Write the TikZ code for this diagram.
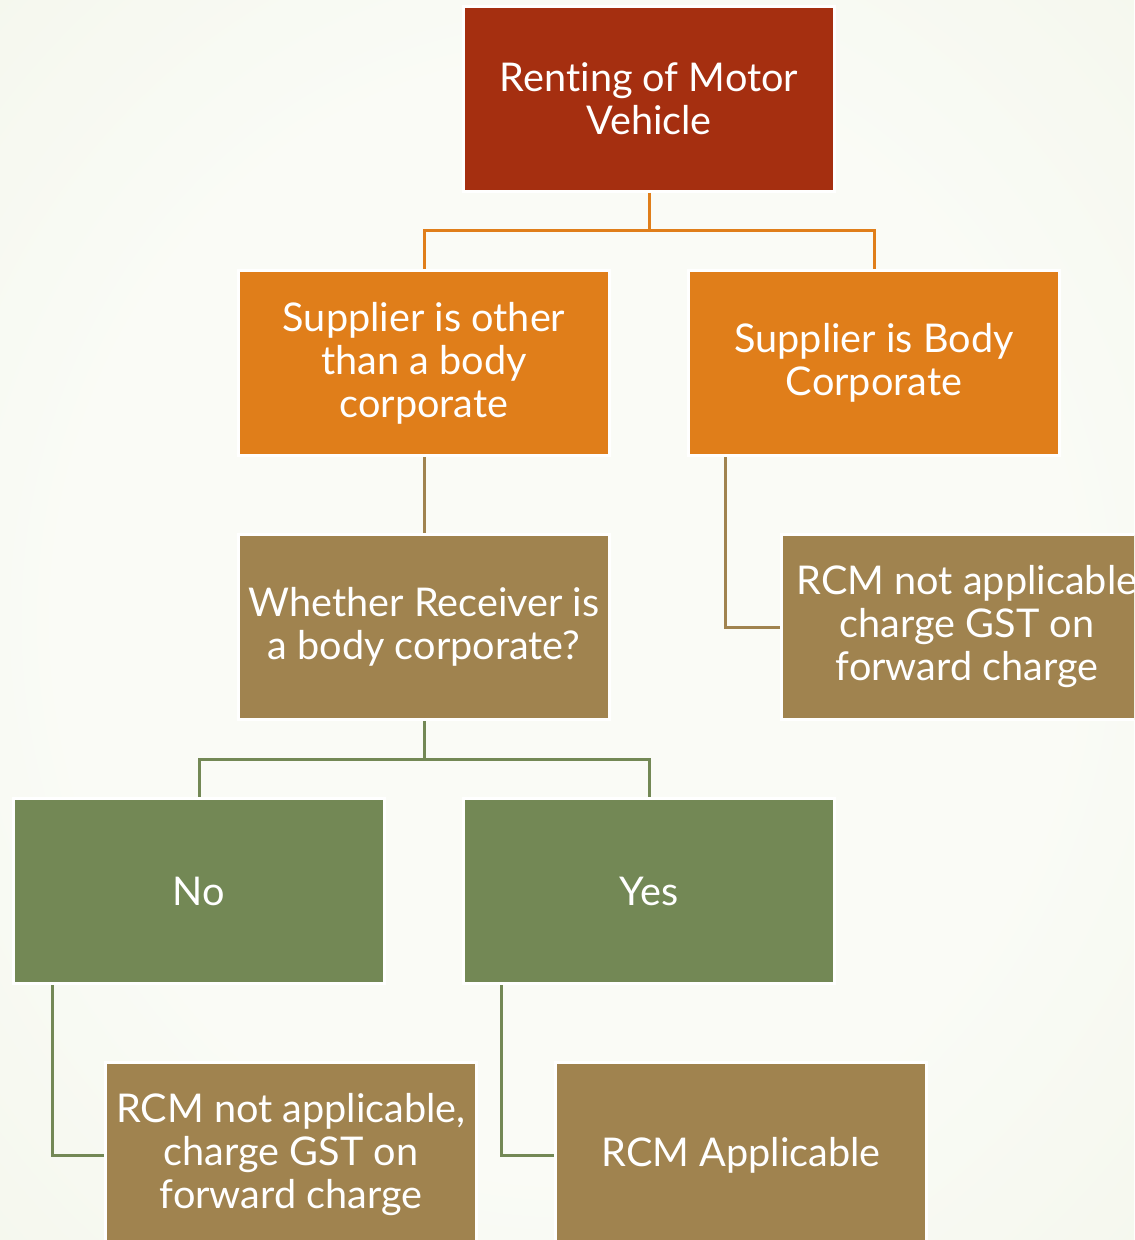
\documentclass[tikz,border=0pt]{standalone}
\usepackage{fontspec}
\setmainfont{Lato}[Ligatures=NoCommon]
\usetikzlibrary{positioning}
\definecolor{rootred}{HTML}{A52F10}
\definecolor{suporange}{HTML}{E07E1A}
\definecolor{recbrown}{HTML}{A0834F}
\definecolor{ansgreen}{HTML}{738855}
\definecolor{bgin}{HTML}{FAFBF6}
\definecolor{bgout}{HTML}{E8EFD9}
\pgfdeclareradialshading{bgshade}{\pgfpoint{0bp}{0bp}}{color(0bp)=(bgin); color(22bp)=(bgin); color(72bp)=(bgout)}

\begin{document}
\begin{tikzpicture}[
    node distance=38pt,
    box/.style={rectangle, minimum width=185.5pt, minimum height=92.5pt, draw=white, line width=1.5pt, text=white, align=center, inner sep=2pt, font=\fontsize{19.8}{21.5}\selectfont},
    rootbox/.style={box, fill=rootred},
    supbox/.style={box, fill=suporange},
    recbox/.style={box, fill=recbrown},
    ansbox/.style={box, fill=ansgreen},
    orgline/.style={draw=suporange, line width=1.5pt},
    brnline/.style={draw=recbrown, line width=1.5pt},
    grnline/.style={draw=ansgreen, line width=1.5pt}
]

% fond
\clip (0,0) rectangle (567pt,-620pt);
\shade[shading=bgshade] (0,0) rectangle (567pt,-620pt);

% niveau 1
\node (root) [rootbox] at (324.5pt,-49.5pt) {Renting of Motor\\Vehicle};

% niveau 2 : fournisseur
\node (other) [supbox, below=of root, xshift=-112.5pt] {Supplier is other\\than a body\\corporate};
\node (body) [supbox, right=of other] {Supplier is Body\\Corporate};

% niveau 3 : destinataire
\node (receiver) [recbox, below=of other] {Whether Receiver is\\a body corporate?};
\node (fwdB) [recbox, right=84.5pt of receiver] {RCM not applicable\\charge GST on\\forward charge};

% niveau 4 : reponses
\node (no) [ansbox, below=of receiver, xshift=-112.5pt] {No};
\node (yes) [ansbox, right=of no] {Yes};

% niveau 5 : resultats
\node (fwdA) [recbox, below=of no, xshift=46pt] {RCM not applicable,\\charge GST on\\forward charge};
\node (rcm) [recbox, right=of fwdA] {RCM Applicable};

% liaisons
\draw [orgline] (root.south) -- ++(0,-19pt) coordinate (split1) -| (other.north);
\draw [orgline] (split1) -| (body.north);
\draw [brnline] (other) -- (receiver);
\draw [brnline] ([xshift=19pt]body.south west) |- (fwdB.west);
\draw [grnline] (receiver.south) -- ++(0,-19pt) coordinate (split2) -| (no.north);
\draw [grnline] (split2) -| (yes.north);
\draw [grnline] ([xshift=20pt]no.south west) |- (fwdA.west);
\draw [grnline] ([xshift=19.5pt]yes.south west) |- (rcm.west);

\end{tikzpicture}
\end{document}
